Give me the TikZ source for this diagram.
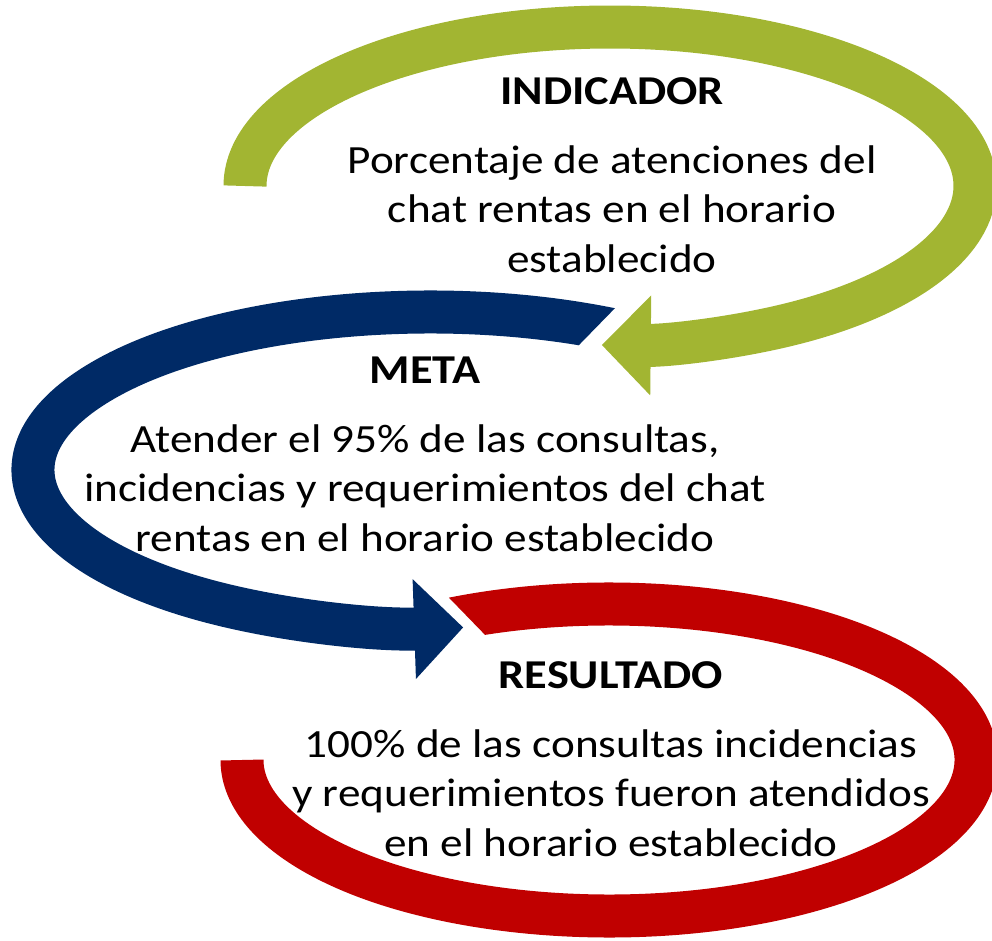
\documentclass[tikz,border=0pt]{standalone}
\usepackage{fontspec}
\setmainfont{Carlito}[FakeStretch=1.13]
\usetikzlibrary{arrows.meta,positioning}
\definecolor{verde}{RGB}{162,181,50}
\definecolor{azul}{RGB}{0,42,102}
\definecolor{rojo}{RGB}{192,0,0}
\tikzset{
  banda/.style={line width=43pt},
  punta/.style={-{Triangle[length=49pt,width=97pt]}},
  titulo/.style={font=\fontsize{41}{48}\selectfont\bfseries, inner sep=0pt},
  texto/.style={font=\fontsize{40}{49.5}\selectfont, align=center, inner sep=0pt}
}
\begin{document}
\begin{tikzpicture}[x=1pt,y=-1pt]
\useasboundingbox (0,0) rectangle (992,940);
%indicador
\draw [verde][banda,punta] (245,186) arc[start angle=180,end angle=451.3,x radius=365,y radius=159];
%meta
\begin{scope}
\clip (-10,-10)--(700,-10)--(700,221)--(540,385)--(1010,385)--(1010,950)--(-10,950)--cycle;
\draw [azul][banda,punta] (640.4,336) arc[start angle=-58,end angle=-274.8,x radius=397,y radius=158];
\end{scope}
%resultado
\begin{scope}
\clip (393,540)--(587,740)--(-10,740)--(-10,950)--(1010,950)--(1010,-10)--(393,-10)--cycle;
\draw [rojo][banda] (398.5,632.2) arc[start angle=-125,end angle=180,x radius=367,y radius=156];
\end{scope}
%textos
\node [titulo,anchor=base] (indicador) at (612,104) {INDICADOR};
\node [texto,below=41pt of indicador] (textoind) {Porcentaje de atenciones del\\chat rentas en el horario\\establecido};
\node [titulo,anchor=base] (meta) at (425,383) {META};
\node [texto,below=41pt of meta] (textometa) {Atender el 95\% de las consultas,\\incidencias y requerimientos del chat\\rentas en el horario establecido};
\node [titulo,anchor=base] (resultado) at (611,688) {RESULTADO};
\node [texto,below=41pt of resultado] (textores) {100\% de las consultas incidencias\\y requerimientos fueron atendidos\\en el horario establecido};
\end{tikzpicture}
\end{document}
